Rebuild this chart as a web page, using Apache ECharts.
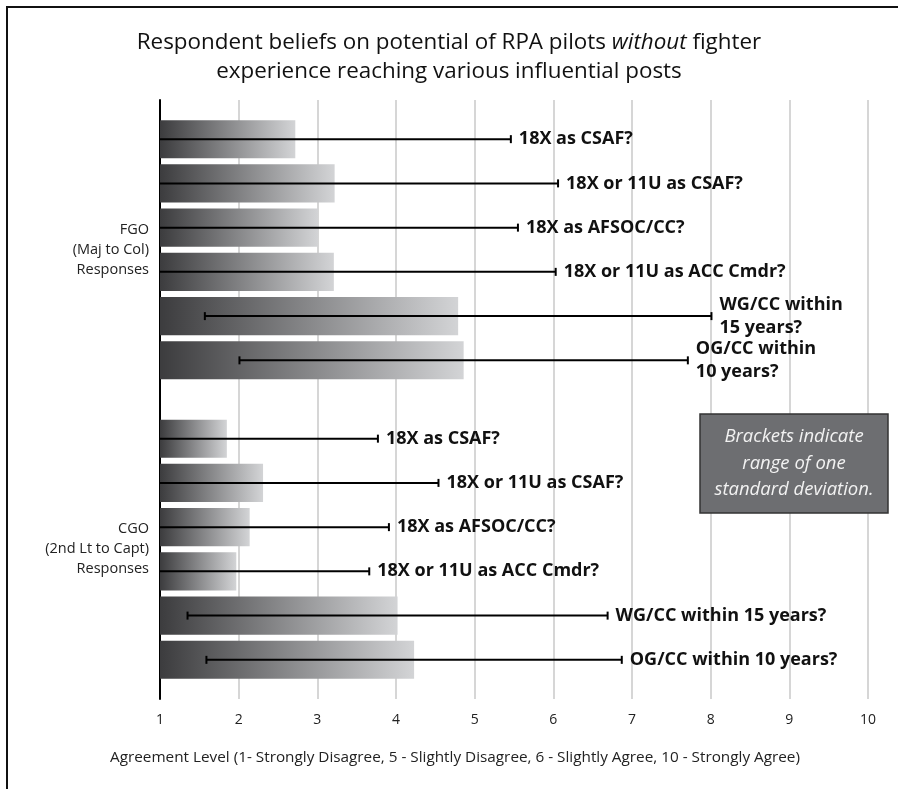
<!DOCTYPE html>
<html>
<head>
<meta charset="utf-8">
<script src="https://cdn.jsdelivr.net/npm/echarts@6/dist/echarts.min.js"></script>
<style>
html,body{margin:0;padding:0;background:#fff;}
#c{width:898px;height:789px;}
</style>
</head>
<body>
<div id="c"></div>
<script>
// ---- data ----
var groups = ['FGO\n(Maj to Col)\nResponses', 'CGO\n(2nd Lt to Capt)\nResponses'];
var fgoLabels = ['18X as CSAF?', '18X or 11U as CSAF?', '18X as AFSOC/CC?', '18X or 11U as ACC Cmdr?', 'WG/CC within\n15 years?', 'OG/CC within\n10 years?'];
var cgoLabels = ['18X as CSAF?', '18X or 11U as CSAF?', '18X as AFSOC/CC?', '18X or 11U as ACC Cmdr?', 'WG/CC within 15 years?', 'OG/CC within 10 years?'];
var fgoMeans = [2.72, 3.22, 3.01, 3.21, 4.79, 4.86];
var fgoSD    = [2.74, 2.84, 2.54, 2.82, 3.22, 2.85];
var cgoMeans = [1.85, 2.31, 2.14, 1.97, 4.02, 4.23];
var cgoSD    = [1.92, 2.23, 1.77, 1.69, 2.67, 2.64];
var xTicks = [1, 2, 3, 4, 5, 6, 7, 8, 9, 10];

// build rows: [mean, groupIndex, slotIndex, sd, label]
var rows = [];
fgoMeans.forEach(function (m, i) { rows.push([m, 0, i, fgoSD[i], fgoLabels[i]]); });
cgoMeans.forEach(function (m, i) { rows.push([m, 1, i, cgoSD[i], cgoLabels[i]]); });

var FONT = '"Open Sans", sans-serif';
var SLOTS = 6.77;
var chart = echarts.init(document.getElementById('c'), null, {renderer: 'canvas'});

function slotY(api, g, idx) {
  var c = api.coord([1, g]);
  var band = api.size([0, 1])[1];
  var step = band / SLOTS;
  return {x0: c[0], y: c[1] + (idx - 2.5) * step, step: step};
}

var option = {
  animation: false,
  backgroundColor: '#ffffff',
  grid: {left: 160, right: 30, top: 100, bottom: 90, containLabel: false},
  xAxis: {
    type: 'value', min: 1, max: 10, interval: 1,
    axisLine: {show: false}, axisTick: {show: false},
    splitLine: {show: true, lineStyle: {color: '#c8c8c8', width: 1.5}},
    axisLabel: {color: '#222', fontFamily: FONT, fontSize: 14, margin: 14,
      formatter: function (v) { return xTicks.indexOf(v) >= 0 ? String(v) : ''; }}
  },
  yAxis: {
    type: 'category', data: groups, inverse: true,
    axisLine: {show: true, onZero: false, lineStyle: {color: '#000', width: 2}},
    axisTick: {show: false},
    splitLine: {show: false},
    axisLabel: {color: '#222', fontFamily: FONT, fontSize: 14.5, lineHeight: 20, margin: 11, align: 'right',
      padding: [5, 0, 0, 0]}
  },
  graphic: [
    {type: 'rect', z: 100, shape: {x: 7, y: 7, width: 1000, height: 1000},
     style: {fill: 'none', stroke: '#111', lineWidth: 2}},
    {type: 'text', x: 449, y: 28, z: 100,
     style: {
       text: '{n|Respondent beliefs on potential of RPA pilots }{i|without}{n| fighter}\n{n|experience reaching various influential posts}',
       align: 'center', verticalAlign: 'top',
       rich: {
         n: {fontFamily: FONT, fontSize: 22.4, fill: '#111', lineHeight: 29},
         i: {fontFamily: FONT, fontSize: 22.4, fontStyle: 'italic', fill: '#111', lineHeight: 29}
       }
     }},
    {type: 'text', x: 455, y: 758, z: 100,
     style: {text: 'Agreement Level (1- Strongly Disagree, 5 - Slightly Disagree, 6 - Slightly Agree, 10 - Strongly Agree)',
       align: 'center', verticalAlign: 'middle', fill: '#222', fontFamily: FONT, fontSize: 15.3}},
    {type: 'rect', z: 100, shape: {x: 700, y: 414, width: 188, height: 99},
     style: {fill: '#6d6e71', stroke: '#333', lineWidth: 1.5}},
    {type: 'text', x: 794, y: 463.5, z: 101,
     style: {text: 'Brackets indicate\nrange of one\nstandard deviation.', align: 'center', verticalAlign: 'middle',
       fill: '#f2f2f2', fontFamily: FONT, fontSize: 18.5, fontStyle: 'italic', lineHeight: 26.5}}
  ],
  series: [
    {
      type: 'custom', name: 'bars',
      data: rows,
      encode: {x: 0, y: 1},
      renderItem: function (params, api) {
        var mean = api.value(0), g = api.value(1), idx = api.value(2);
        var s = slotY(api, g, idx);
        var end = api.coord([mean, g])[0];
        var h = s.step * 0.86;
        return {
          type: 'rect',
          shape: {x: s.x0, y: s.y - h / 2, width: end - s.x0, height: h},
          style: {fill: new echarts.graphic.LinearGradient(0, 0, 1, 0, [
            {offset: 0, color: '#3c3c3e'}, {offset: 1, color: '#d3d4d6'}])}
        };
      }
    },
    {
      type: 'custom', name: 'sd',
      data: rows,
      encode: {x: 0, y: 1},
      z: 3,
      renderItem: function (params, api) {
        var mean = api.value(0), g = api.value(1), idx = api.value(2), sd = api.value(3);
        var label = rows[params.dataIndex][4];
        var s = slotY(api, g, idx);
        var lo = mean - sd, hi = mean + sd;
        var xLo = api.coord([Math.max(1, lo), g])[0];
        var xHi = api.coord([hi, g])[0];
        var cap = 4;
        var children = [
          {type: 'line', shape: {x1: xLo, y1: s.y, x2: xHi, y2: s.y}, style: {stroke: '#000', lineWidth: 2}},
          {type: 'line', shape: {x1: xHi, y1: s.y - cap, x2: xHi, y2: s.y + cap}, style: {stroke: '#000', lineWidth: 2}}
        ];
        if (lo >= 1) {
          children.push({type: 'line', shape: {x1: xLo, y1: s.y - cap, x2: xLo, y2: s.y + cap}, style: {stroke: '#000', lineWidth: 2}});
        }
        children.push({type: 'text', x: xHi + 8, y: s.y,
          style: {text: label, align: 'left', verticalAlign: 'middle', fill: '#111',
            fontFamily: FONT, fontWeight: 'bold', fontSize: 18, lineHeight: 23}});
        return {type: 'group', children: children};
      }
    }
  ]
};
chart.setOption(option);
</script>
</body>
</html>
